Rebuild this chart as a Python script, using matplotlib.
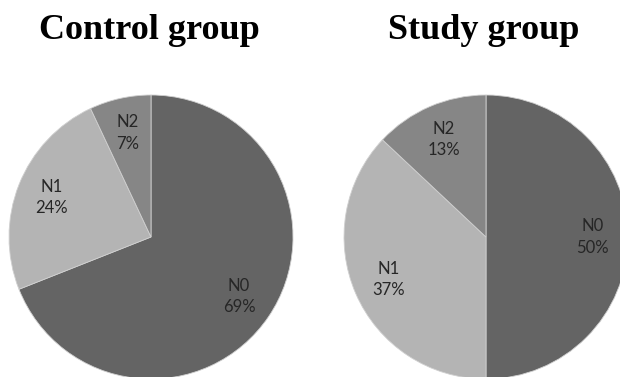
import numpy as np
import matplotlib.pyplot as plt

# N-stage distribution per group (percent)
categories = ["N0", "N1", "N2"]
control_pct = [69, 24, 7]
study_pct = [50, 37, 13]
titles = ["Control group", "Study group"]

colors = ["#646464", "#b4b4b4", "#868686"]

fig = plt.figure(figsize=(6.2, 3.77), dpi=100)
W, H = 620, 377
R = 142  # pie radius in pixels


def draw_pie(cx, cy, values, title, title_x):
    ax = fig.add_axes([(cx - R) / W, (H - cy - R) / H, 2 * R / W, 2 * R / H])
    wedges, _ = ax.pie(values, colors=colors, startangle=90, counterclock=False,
                       radius=1.0, wedgeprops=dict(edgecolor="#d0d0d0", linewidth=0.6))
    for w, name, v in zip(wedges, categories, values):
        mid = np.deg2rad((w.theta1 + w.theta2) / 2)
        r = 0.75
        ax.text(r * np.cos(mid), r * np.sin(mid), f"{name}\n{v}%",
                ha="center", va="center", fontsize=12, color="#262626",
                family="Lato", linespacing=1.4)
    ax.set_xlim(-1, 1)
    ax.set_ylim(-1, 1)
    ax.set_aspect("equal")
    ax.axis("off")
    fig.text(title_x / W, 1 - 39 / H, title, ha="center", va="baseline",
             fontsize=26, fontweight="bold", family="Liberation Serif")


draw_pie(151, 237, control_pct, titles[0], 149)
draw_pie(486, 237, study_pct, titles[1], 484)

fig.savefig("out.png", dpi=100)
